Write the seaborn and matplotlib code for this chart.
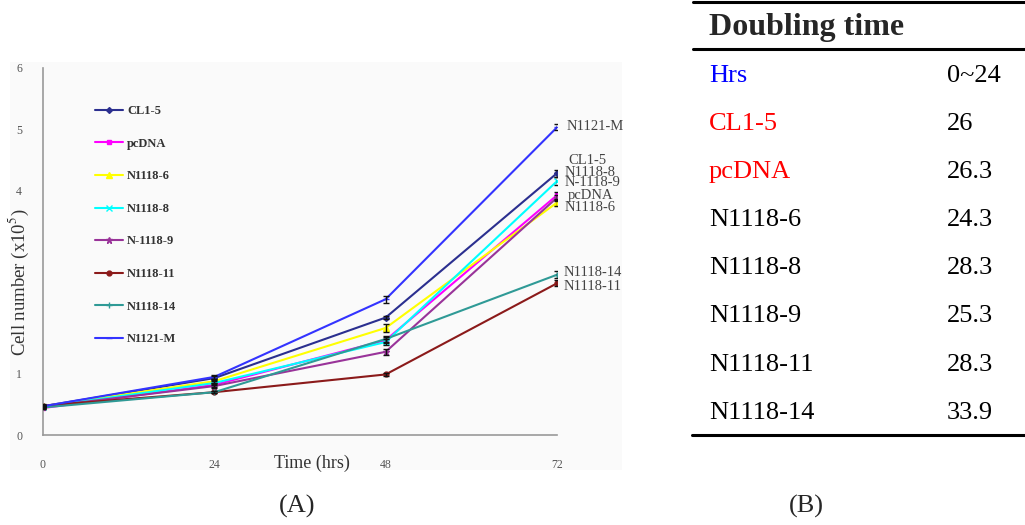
import numpy as np
import pandas as pd
import matplotlib
matplotlib.use("Agg")
import matplotlib.pyplot as plt
from matplotlib.lines import Line2D
from matplotlib.patches import Rectangle
import seaborn as sns

# ---- data ----
hours = [0, 24, 48, 72]
cl1_5 = [0.47, 0.93, 1.92, 4.28]
pcdna = [0.44, 0.82, 1.55, 3.92]
n1118_6 = [0.47, 0.88, 1.75, 3.80]
n1118_8 = [0.46, 0.85, 1.52, 4.15]
n1118_9 = [0.46, 0.80, 1.36, 3.88]
n1118_11 = [0.48, 0.70, 0.99, 2.48]
n1118_14 = [0.45, 0.70, 1.57, 2.62]
n1121_m = [0.47, 0.95, 2.22, 5.03]

err_cl1_5 = [0.02, 0.03, 0.03, 0.06]
err_pcdna = [0.02, 0.03, 0.05, 0.06]
err_n1118_6 = [0.02, 0.03, 0.06, 0.05]
err_n1118_8 = [0.02, 0.03, 0.05, 0.06]
err_n1118_9 = [0.02, 0.03, 0.05, 0.05]
err_n1118_11 = [0.02, 0.02, 0.03, 0.05]
err_n1118_14 = [0.02, 0.02, 0.05, 0.06]
err_n1121_m = [0.02, 0.03, 0.06, 0.05]

series_names = ["CL1-5", "pcDNA", "N1118-6", "N1118-8", "N-1118-9", "N1118-11", "N1118-14", "N1121-M"]
series_vals = [cl1_5, pcdna, n1118_6, n1118_8, n1118_9, n1118_11, n1118_14, n1121_m]
series_errs = [err_cl1_5, err_pcdna, err_n1118_6, err_n1118_8, err_n1118_9,
               err_n1118_11, err_n1118_14, err_n1121_m]

y_ticks = [0, 1, 2, 3, 4, 5, 6]
y_tick_labels = ["0", "1", "", "", "4", "5", "6"]  # 2 and 3 sit under the axis title

# doubling-time table
table_header = "Doubling time"
table_labels = ["Hrs", "CL1-5", "pcDNA", "N1118-6", "N1118-8", "N1118-9", "N1118-11", "N1118-14"]
table_values = ["0~24", "26", "26.3", "24.3", "28.3", "25.3", "28.3", "33.9"]

# ---- styles ----
colors = ["#2b2f8f", "#ff00ff", "#ffff00", "#00ffff", "#993399", "#8b1a1a", "#2f9a96", "#3333ff"]
markers = ["D", "s", "^", "x", "*", "o", "+", "_"]
msizes = [3, 3.5, 4, 4, 5, 3.5, 5, 4]
label_colors = ["blue", "red", "red"] + ["black"] * 5

# end-label positions (figure pixels, top-left origin)
end_label_px = [(568, 160), (568, 195), (565, 207), (565, 172),
                (565, 183), (564, 287), (564, 272), (567, 126)]

sns.set_style("white")
plt.rcParams["font.family"] = ["Liberation Serif", "DejaVu Serif"]
plt.rcParams["mathtext.fontset"] = "stix"

W, H = 1025, 525
fig = plt.figure(figsize=(W / 100, H / 100), dpi=100)


def fx(px):
    return px / W


def fy(py):
    return 1 - py / H


# faint panel behind the growth curve
fig.patches.append(Rectangle((fx(10), fy(470)), fx(622) - fx(10), fy(62) - fy(470),
                             transform=fig.transFigure, facecolor="#fafafa",
                             edgecolor="none", zorder=-1))

ax = fig.add_axes([fx(43), fy(435), fx(557) - fx(43), fy(68) - fy(435)])
ax.patch.set_alpha(0)

df = pd.DataFrame({
    "Time": np.tile(hours, len(series_names)),
    "Cells": np.concatenate(series_vals),
    "Line": np.repeat(series_names, len(hours)),
})

for name, col, mk, ms, errs in zip(series_names, colors, markers, msizes, series_errs):
    sub = df[df["Line"] == name]
    sns.lineplot(data=sub, x="Time", y="Cells", color=col, marker=mk, markersize=ms,
                 markeredgecolor=col, markeredgewidth=1, linewidth=1.5, label=name, ax=ax)
    ax.errorbar(sub["Time"], sub["Cells"], yerr=errs, fmt="none", ecolor="#111111",
                elinewidth=1, capsize=2.5, capthick=1, zorder=5)

ax.set_xlim(0, 72)
ax.set_ylim(0, 6)
ax.set_xticks(hours)
ax.set_yticks(y_ticks)
ax.set_yticklabels(y_tick_labels)
ax.tick_params(axis="both", direction="in", length=3.5, width=0.8, color="#888888",
               labelsize=8.5, labelcolor="#555555")
ax.tick_params(axis="x", pad=17)
ax.tick_params(axis="y", pad=15)
sns.despine(ax=ax)
for s in ["left", "bottom"]:
    ax.spines[s].set_color("#999999")
    ax.spines[s].set_linewidth(1.2)
ax.set_xlabel("")
ax.set_ylabel("")

fig.text(fx(312), fy(463), "Time (hrs)", fontsize=13, color="#333333", ha="center", va="center")
fig.text(fx(19), fy(282), "Cell number (x10$^{5}$)", fontsize=13.5, color="#333333",
         rotation=90, ha="center", va="center")

leg = ax.legend(loc="upper left", bbox_to_anchor=(fx(95), fy(105)), bbox_transform=fig.transFigure,
                frameon=False, borderpad=0, borderaxespad=0, labelspacing=1.65,
                handlelength=2.25, handletextpad=0.3,
                prop={"family": "Liberation Serif", "weight": "bold", "size": 9})
for t in leg.get_texts():
    t.set_color("#333333")

for name, (px, py) in zip(series_names, end_label_px):
    fig.text(fx(px), fy(py), name, fontsize=10.5, color="#444444", ha="left", va="center")

# ---- table (B) ----
fig.add_artist(Line2D([fx(693), fx(1025)], [fy(1.5), fy(1.5)], color="black", lw=2.2))
fig.add_artist(Line2D([fx(693), fx(1025)], [fy(49), fy(49)], color="black", lw=2.2))
fig.add_artist(Line2D([fx(692), fx(1025)], [fy(435), fy(435)], color="black", lw=2.2))
fig.text(fx(709), fy(35), table_header, fontsize=23, fontweight="bold", ha="left", va="baseline")
for i, (lab, val, lc) in enumerate(zip(table_labels, table_values, label_colors)):
    base = 82 + i * 48.1
    fig.text(fx(709), fy(base), lab, fontsize=19, color=lc, ha="left", va="baseline")
    fig.text(fx(947), fy(base), val, fontsize=19, color="black", ha="left", va="baseline")

fig.text(fx(297), fy(506), "(A)", fontsize=19, ha="center", va="center")
fig.text(fx(806), fy(506), "(B)", fontsize=19, ha="center", va="center")

fig.savefig("out.png", dpi=100)
